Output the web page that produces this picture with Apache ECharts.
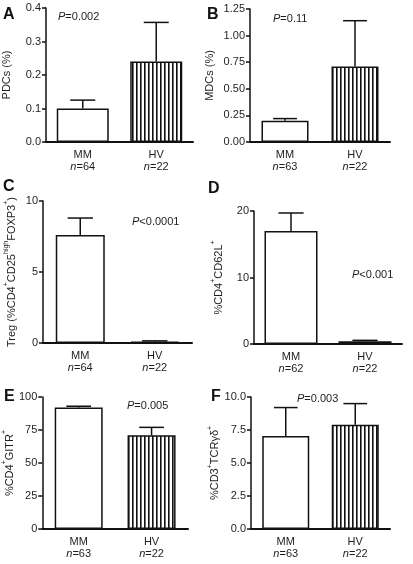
<!DOCTYPE html>
<html><head><meta charset="utf-8">
<script src="https://cdn.jsdelivr.net/npm/echarts@6/dist/echarts.min.js"></script>
<style>html,body{margin:0;padding:0;background:#fff}#c{width:413px;height:564px}</style>
</head><body><div id="c"></div>
<script>
// ---- data ----
const categories = ['MM', 'HV'];
const panelLetters = ['A', 'B', 'C', 'D', 'E', 'F'];
const pTexts = ['=0.002', '=0.11', '<0.0001', '<0.001', '=0.005', '=0.003'];
const nA = ['64', '22'];
const nB = ['63', '22'];
const nC = ['64', '22'];
const nD = ['62', '22'];
const nE = ['63', '22'];
const nF = ['63', '22'];
const meanA = [0.10, 0.24];  const errA = [0.125, 0.357];
const meanB = [0.20, 0.71];  const errB = [0.22, 1.14];
const meanC = [7.6, 0.10];   const errC = [8.8, 0.15];
const meanD = [17.0, 0.40];  const errD = [19.7, 0.55];
const meanE = [92, 71];      const errE = [93, 77];
const meanF = [7.05, 7.9];   const errF = [9.2, 9.5];
const ticksA = {min: 0, max: 0.4, interval: 0.1, dec: 1};
const ticksB = {min: 0, max: 1.25, interval: 0.25, dec: 2};
const ticksC = {min: 0, max: 10, interval: 5, dec: 0};
const ticksD = {min: 0, max: 20, interval: 10, dec: 0};
const ticksE = {min: 0, max: 100, interval: 25, dec: 0};
const ticksF = {min: 0, max: 10, interval: 2.5, dec: 1};
const yNames = [
  'PDCs (%)',
  'MDCs (%)',
  '{a|Treg (%CD4}{s|+}{a|CD25}{s|high}{a|FOXP3}{s|+}{a|)}',
  '{a|%CD4}{s|+}{a|CD62L}{s|+}',
  '{a|%CD4}{s|+}{a|GITR}{s|+}',
  '{a|%CD3}{s|+}{a|TCRγδ}{s|+}'
];

// ---- layout ----
const FONT = 'Liberation Sans, Arial, sans-serif';
const TXT = '#1e1e1e';
const grids = [
  {left: 44, top: 8, width: 149, height: 134},
  {left: 250, top: 9, width: 140, height: 133},
  {left: 43, top: 201, width: 149, height: 142},
  {left: 254, top: 211, width: 148, height: 133},
  {left: 42, top: 397, width: 146, height: 132},
  {left: 251, top: 397, width: 139, height: 132}
];
const barWidths = [52, 47, 49, 53, 48, 47];
const nameGaps = [34, 35, 26, 30, 25, 28];
const letterPos = [[3, 6], [207, 6], [3, 178], [208, 180], [4, 388], [211, 388]];
const pPos = [[58, 10], [273, 12], [132, 215], [352, 268], [127, 399], [297, 392]];

const means = [meanA, meanB, meanC, meanD, meanE, meanF];
const errs = [errA, errB, errC, errD, errE, errF];
const ns = [nA, nB, nC, nD, nE, nF];
const ticks = [ticksA, ticksB, ticksC, ticksD, ticksE, ticksF];

// stripe pattern
const pc = document.createElement('canvas');
pc.width = 4; pc.height = 8;
const pctx = pc.getContext('2d');
pctx.fillStyle = '#fff'; pctx.fillRect(0, 0, 4, 8);
pctx.fillStyle = '#111'; pctx.fillRect(0, 0, 1.6, 8);
const stripe = {image: pc, repeat: 'repeat'};

const option = {
  animation: false,
  backgroundColor: '#fff',
  title: [],
  grid: grids.map(g => Object.assign({containLabel: false}, g)),
  xAxis: [], yAxis: [], series: []
};

for (let i = 0; i < 6; i++) {
  option.title.push({
    text: panelLetters[i], left: letterPos[i][0], top: letterPos[i][1], padding: 0,
    textStyle: {fontFamily: FONT, fontWeight: 'bold', fontSize: 16, color: '#111', lineHeight: 18}
  });
  option.title.push({
    text: '{i|P}{a|' + pTexts[i] + '}', left: pPos[i][0], top: pPos[i][1], padding: 0,
    textStyle: {fontWeight: 'normal', fontSize: 11, fontFamily: FONT, rich: {
      i: {fontFamily: FONT, fontStyle: 'italic', fontWeight: 'normal', fontSize: 11, color: TXT, lineHeight: 14},
      a: {fontFamily: FONT, fontWeight: 'normal', fontSize: 11, color: TXT, lineHeight: 14}
    }}
  });
  const nn = ns[i];
  option.xAxis.push({
    type: 'category', gridIndex: i, data: categories,
    axisLine: {lineStyle: {color: '#111', width: 2}},
    axisTick: {alignWithLabel: true, length: 4, lineStyle: {color: '#111', width: 1.5}},
    axisLabel: {
      margin: 7, interval: 0,
      formatter: (v, idx) => '{a|' + v + '}\n{i|n}{a|=' + nn[idx] + '}',
      rich: {
        a: {fontFamily: FONT, fontSize: 11, color: TXT, lineHeight: 12},
        i: {fontFamily: FONT, fontSize: 11, fontStyle: 'italic', color: TXT, lineHeight: 12}
      }
    }
  });
  const t = ticks[i];
  option.yAxis.push({
    type: 'value', gridIndex: i, min: t.min, max: t.max, interval: t.interval,
    splitLine: {show: false},
    axisLine: {show: true, lineStyle: {color: '#111', width: 1.5}},
    axisTick: {show: true, length: 4, lineStyle: {color: '#111', width: 1.5}},
    axisLabel: {margin: 5, fontFamily: FONT, fontSize: 11, color: TXT,
      formatter: v => v.toFixed(t.dec)},
    name: yNames[i], nameLocation: 'middle', nameRotate: 90, nameGap: nameGaps[i],
    nameTextStyle: {fontFamily: FONT, fontSize: 11, color: TXT,
      rich: {
        a: {fontFamily: FONT, fontSize: 11, color: TXT, lineHeight: 14, verticalAlign: 'bottom'},
        s: {fontFamily: FONT, fontSize: 7, color: TXT, lineHeight: 14, verticalAlign: 'top'}
      }}
  });
  const m = means[i];
  option.series.push({
    type: 'bar', xAxisIndex: i, yAxisIndex: i, barWidth: barWidths[i],
    data: [
      {value: m[0], itemStyle: {color: '#fff'}},
      {value: m[1], itemStyle: {color: stripe}}
    ],
    itemStyle: {borderColor: '#111', borderWidth: 1.5},
    z: 2
  });
  const e = errs[i];
  option.series.push({
    type: 'custom', xAxisIndex: i, yAxisIndex: i, z: 3,
    encode: {x: 0, y: 2},
    data: [[0, m[0], e[0]], [1, m[1], e[1]]],
    renderItem: function (params, api) {
      const p0 = api.coord([api.value(0), api.value(1)]);
      const p1 = api.coord([api.value(0), api.value(2)]);
      const half = api.size([1, 0])[0] * 0.17;
      const st = {stroke: '#111', lineWidth: 1.5};
      return {type: 'group', children: [
        {type: 'line', shape: {x1: p0[0], y1: p0[1], x2: p1[0], y2: p1[1]}, style: st},
        {type: 'line', shape: {x1: p1[0] - half, y1: p1[1], x2: p1[0] + half, y2: p1[1]}, style: st}
      ]};
    }
  });
}

const chart = echarts.init(document.getElementById('c'), null, {renderer: 'canvas'});
chart.setOption(option);
</script>
</body></html>
